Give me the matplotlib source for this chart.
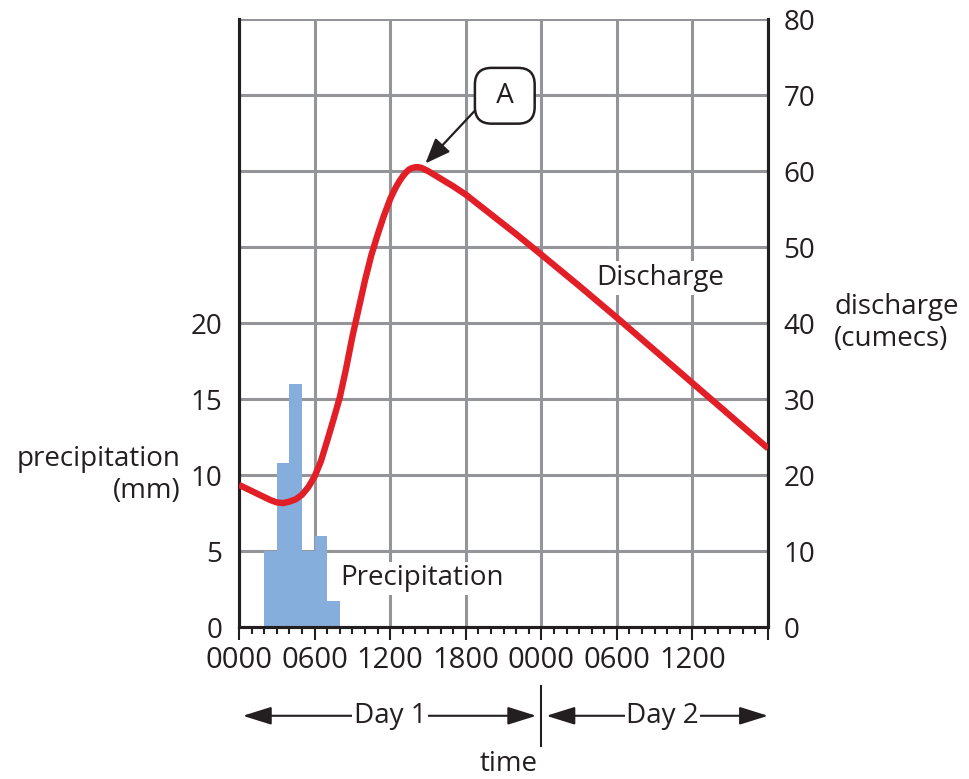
import numpy as np
import matplotlib.pyplot as plt
from matplotlib.ticker import MultipleLocator

plt.rcParams['font.family'] = ['Open Sans', 'DejaVu Sans']

# hourly precipitation (mm), bar starts at hour after 0000 day 1
rain_hour = [2, 3, 4, 5, 6, 7]
rain_mm = [5.0, 10.8, 16.0, 5.0, 6.0, 1.7]

# discharge readings (hours after 0000 day 1, cumecs)
q_hour = [0, 1, 2, 2.5, 3, 3.5, 4, 4.5, 5, 5.5, 6, 6.5, 7, 7.5, 8, 8.5, 9, 9.5,
          10, 10.5, 11, 11.5, 12, 12.25, 12.5, 12.75, 13, 13.25, 13.5, 13.75,
          14, 14.25, 14.5, 15, 15.5, 16, 17, 18, 20, 22, 24, 27, 30, 33, 36,
          39, 42]
q_cumecs = [18.7, 17.9, 17.1, 16.7, 16.4, 16.3, 16.5, 16.8, 17.4, 18.4, 19.8,
            21.8, 24.5, 27.3, 30.2, 34.0, 38.2, 41.9, 45.6, 48.9, 51.6, 54.1,
            56.3, 57.2, 58.0, 58.7, 59.3, 59.8, 60.2, 60.4, 60.5, 60.5, 60.4,
            60.0, 59.5, 59.0, 58.0, 56.9, 54.3, 51.7, 49.0, 44.9, 40.7, 36.4,
            32.1, 27.8, 23.5]

x_ticks = [0, 6, 12, 18, 24, 30, 36, 42]
x_labels = ['0000', '0600', '1200', '1800', '0000', '0600', '1200', '']
rain_ticks = [0, 5, 10, 15, 20]
q_ticks = [0, 10, 20, 30, 40, 50, 60, 70, 80]

ink = '#231f20'
grey = '#939598'
red = '#e21f26'
blue = '#85aedc'

fig = plt.figure(figsize=(9.7, 7.79), dpi=100)
ax = fig.add_axes([0.2464, 0.1951, 0.5454, 0.7805])
ax2 = ax.twinx()

# precipitation bars on left axis
ax.bar(rain_hour, rain_mm, width=1, align='edge', color=blue, zorder=2)
ax.set_xlim(0, 42)
ax.set_ylim(0, 40)
ax.set_xticks(x_ticks, labels=x_labels)
ax.xaxis.set_minor_locator(MultipleLocator(1))
grid_y = np.arange(0, 41, 5)
ax.set_yticks(grid_y, labels=[str(v) if v in rain_ticks else '' for v in grid_y])
ax.set_axisbelow(True)
ax.grid(True, color=grey, lw=2.2)

# discharge on right axis
ax2.plot(q_hour, q_cumecs, color=red, lw=4.6, zorder=3,
         solid_joinstyle='round', solid_capstyle='butt')
ax2.set_ylim(0, 80)
ax2.set_yticks(q_ticks)

for a in (ax, ax2):
    a.spines['top'].set_visible(False)
    for s in ('left', 'right', 'bottom'):
        a.spines[s].set_linewidth(2.2)
        a.spines[s].set_color(ink)

ax.tick_params(axis='y', length=0, pad=12, labelsize=20, labelcolor=ink)
ax2.tick_params(axis='y', length=0, pad=11, labelsize=20, labelcolor=ink)
ax.tick_params(axis='x', which='major', length=9, width=1.5, color=ink,
               pad=5, labelsize=21, labelcolor=ink)
ax.tick_params(axis='x', which='minor', length=5, width=1.5, color=ink)

ax.set_ylabel('precipitation\n(mm)', rotation=0, fontsize=20, color=ink,
              ha='right', va='center', multialignment='right')
ax.yaxis.set_label_coords(-0.11, 0.25)
ax2.set_ylabel('discharge\n(cumecs)', rotation=0, fontsize=20, color=ink,
               ha='left', va='center', multialignment='left')
ax2.yaxis.set_label_coords(1.125, 0.5)

ax.text(8.0, 3.2, 'Precipitation', fontsize=20, color=ink, va='center',
        bbox=dict(fc='white', ec='none', pad=2), zorder=3)
ax2.text(28.4, 45.9, 'Discharge', fontsize=20, color=ink, va='center',
         bbox=dict(fc='white', ec='none', pad=2), zorder=2)

ax2.annotate(' A ', xy=(14.8, 61.0), xytext=(21.1, 69.9), fontsize=20,
             color=ink, ha='center', va='center', zorder=4,
             bbox=dict(boxstyle='round,pad=0.5,rounding_size=0.6', fc='white',
                       ec=ink, lw=1.8),
             arrowprops=dict(arrowstyle='-|>,head_length=0.7,head_width=0.28',
                             color=ink, lw=1.6, mutation_scale=22,
                             relpos=(0, 0.5), shrinkA=0, shrinkB=0))

# day markers below the time axis
xt = ax.get_xaxis_transform()
day_y = -0.146
arrow = dict(arrowstyle='<|-|>,head_length=0.8,head_width=0.25', color=ink,
             lw=1.5, mutation_scale=22, shrinkA=0, shrinkB=0)
ax.annotate('', xy=(0.3, day_y), xytext=(23.6, day_y), xycoords=xt,
            textcoords=xt, arrowprops=arrow, annotation_clip=False)
ax.annotate('', xy=(24.4, day_y), xytext=(42, day_y), xycoords=xt,
            textcoords=xt, arrowprops=arrow, annotation_clip=False)
ax.text(12, day_y, 'Day 1', transform=xt, fontsize=20, color=ink,
        ha='center', va='center', bbox=dict(fc='white', ec='none', pad=1))
ax.text(33.6, day_y, 'Day 2', transform=xt, fontsize=20, color=ink,
        ha='center', va='center', bbox=dict(fc='white', ec='none', pad=1))
ax.plot([24, 24], [-0.097, -0.196], transform=xt, clip_on=False,
        color=ink, lw=1.5)

ax.set_xlabel('time', fontsize=20, color=ink)
ax.xaxis.set_label_coords(0.509, -0.226)
ax.xaxis.label.set_va('center')

fig.savefig('out.png', dpi=100)
